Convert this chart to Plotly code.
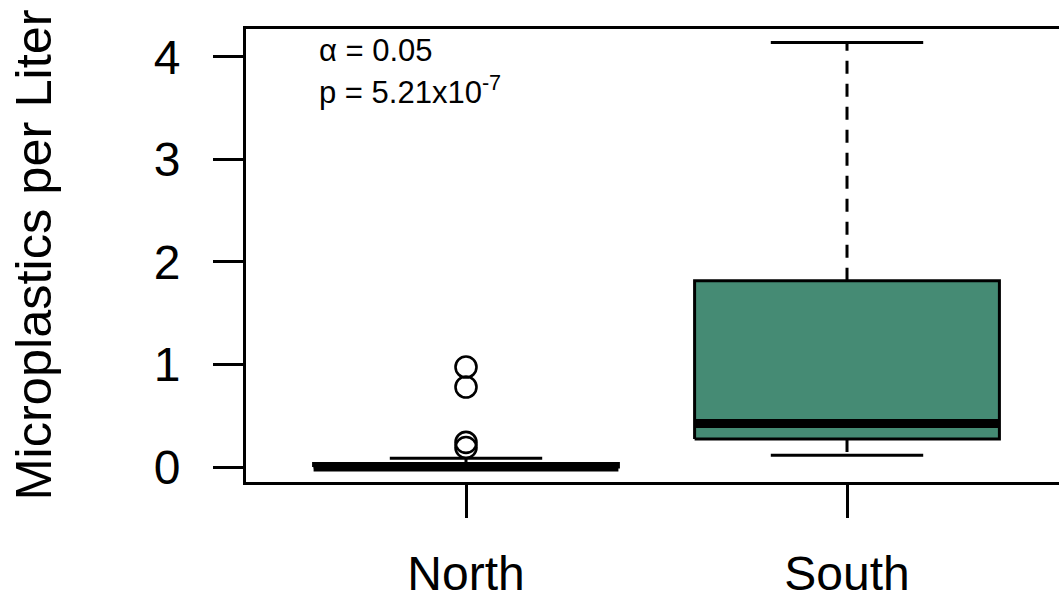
import plotly.graph_objects as go

# ---- data ----
categories = ["North", "South"]
q1 = [0.0, 0.273]
median = [0.0, 0.424]
q3 = [0.035, 1.818]
lower_whisker = [0.0, 0.114]
upper_whisker = [0.085, 4.141]
outliers = {"North": [0.19, 0.24, 0.78, 0.975], "South": []}
y_ticks = [0, 1, 2, 3, 4]

# ---- style ----
FILL = "#458B74"
FONT = "Liberation Sans, Arial, sans-serif"
BOX_HALF = 0.4
CAP_HALF = 0.2
DASH = "13px,10px"

fig = go.Figure()

for i, cat in enumerate(categories):
    xc = i + 1
    # whiskers (dashed)
    fig.add_trace(go.Scatter(
        x=[xc, xc, None, xc, xc],
        y=[q3[i], upper_whisker[i], None, q1[i], lower_whisker[i]],
        mode="lines", line=dict(color="black", width=3, dash=DASH),
        hoverinfo="skip", showlegend=False))
    # staples
    fig.add_trace(go.Scatter(
        x=[xc - CAP_HALF, xc + CAP_HALF, None, xc - CAP_HALF, xc + CAP_HALF],
        y=[upper_whisker[i], upper_whisker[i], None, lower_whisker[i], lower_whisker[i]],
        mode="lines", line=dict(color="black", width=3),
        hoverinfo="skip", showlegend=False))
    # box
    fig.add_trace(go.Scatter(
        x=[xc - BOX_HALF, xc + BOX_HALF, xc + BOX_HALF, xc - BOX_HALF, xc - BOX_HALF],
        y=[q1[i], q1[i], q3[i], q3[i], q1[i]],
        mode="lines", fill="toself", fillcolor=FILL,
        line=dict(color="black", width=3),
        hoverinfo="skip", showlegend=False))
    # median
    fig.add_trace(go.Scatter(
        x=[xc - BOX_HALF, xc + BOX_HALF], y=[median[i], median[i]],
        mode="lines", line=dict(color="black", width=9),
        hoverinfo="skip", showlegend=False))
    # outliers
    pts = outliers[cat]
    if pts:
        fig.add_trace(go.Scatter(
            x=[xc] * len(pts), y=pts, mode="markers",
            marker=dict(symbol="circle-open", size=21, color="black",
                        line=dict(width=2.6, color="black")),
            hoverinfo="skip", showlegend=False))

fig.update_layout(
    width=1059, height=602,
    margin=dict(l=246, r=0, t=29, b=120, autoexpand=False),
    plot_bgcolor="white", paper_bgcolor="white",
    font=dict(family=FONT, color="black"),
    xaxis=dict(
        range=[0.4226, 2.5564], tickmode="array", tickvals=[1, 2], ticktext=categories,
        showgrid=False, zeroline=False, showline=True, mirror=True, automargin=False,
        linecolor="black", linewidth=3, ticks="outside", ticklen=33, tickwidth=3,
        tickcolor="black", tickfont=dict(size=48, family=FONT, color="black"),
        ticklabelstandoff=14),
    yaxis=dict(
        range=[-0.1463, 4.273], tickmode="array", tickvals=y_ticks,
        ticktext=[str(v) for v in y_ticks], automargin=False,
        showgrid=False, zeroline=False, showline=True, mirror=False,
        linecolor="black", linewidth=3, ticks="outside", ticklen=30, tickwidth=3,
        tickcolor="black", tickfont=dict(size=48, family=FONT, color="black"),
        ticklabelstandoff=23),
    annotations=[
        dict(text="Microplastics per Liter", textangle=-90, xref="paper", yref="paper",
             x=(33 - 246) / 813, y=0.5, xanchor="center", yanchor="middle",
             showarrow=False, font=dict(size=50.5, family=FONT, color="black")),
        dict(text="α = 0.05", xref="x", yref="y", x=0.61, y=4.06,
             xanchor="left", yanchor="middle", showarrow=False,
             font=dict(size=31, family=FONT, color="black")),
        dict(text="p = 5.21x10<sup>-7</sup>", xref="x", yref="y", x=0.61, y=3.68,
             xanchor="left", yanchor="middle", showarrow=False,
             font=dict(size=31, family=FONT, color="black")),
    ],
)

fig.write_html("out.html")
